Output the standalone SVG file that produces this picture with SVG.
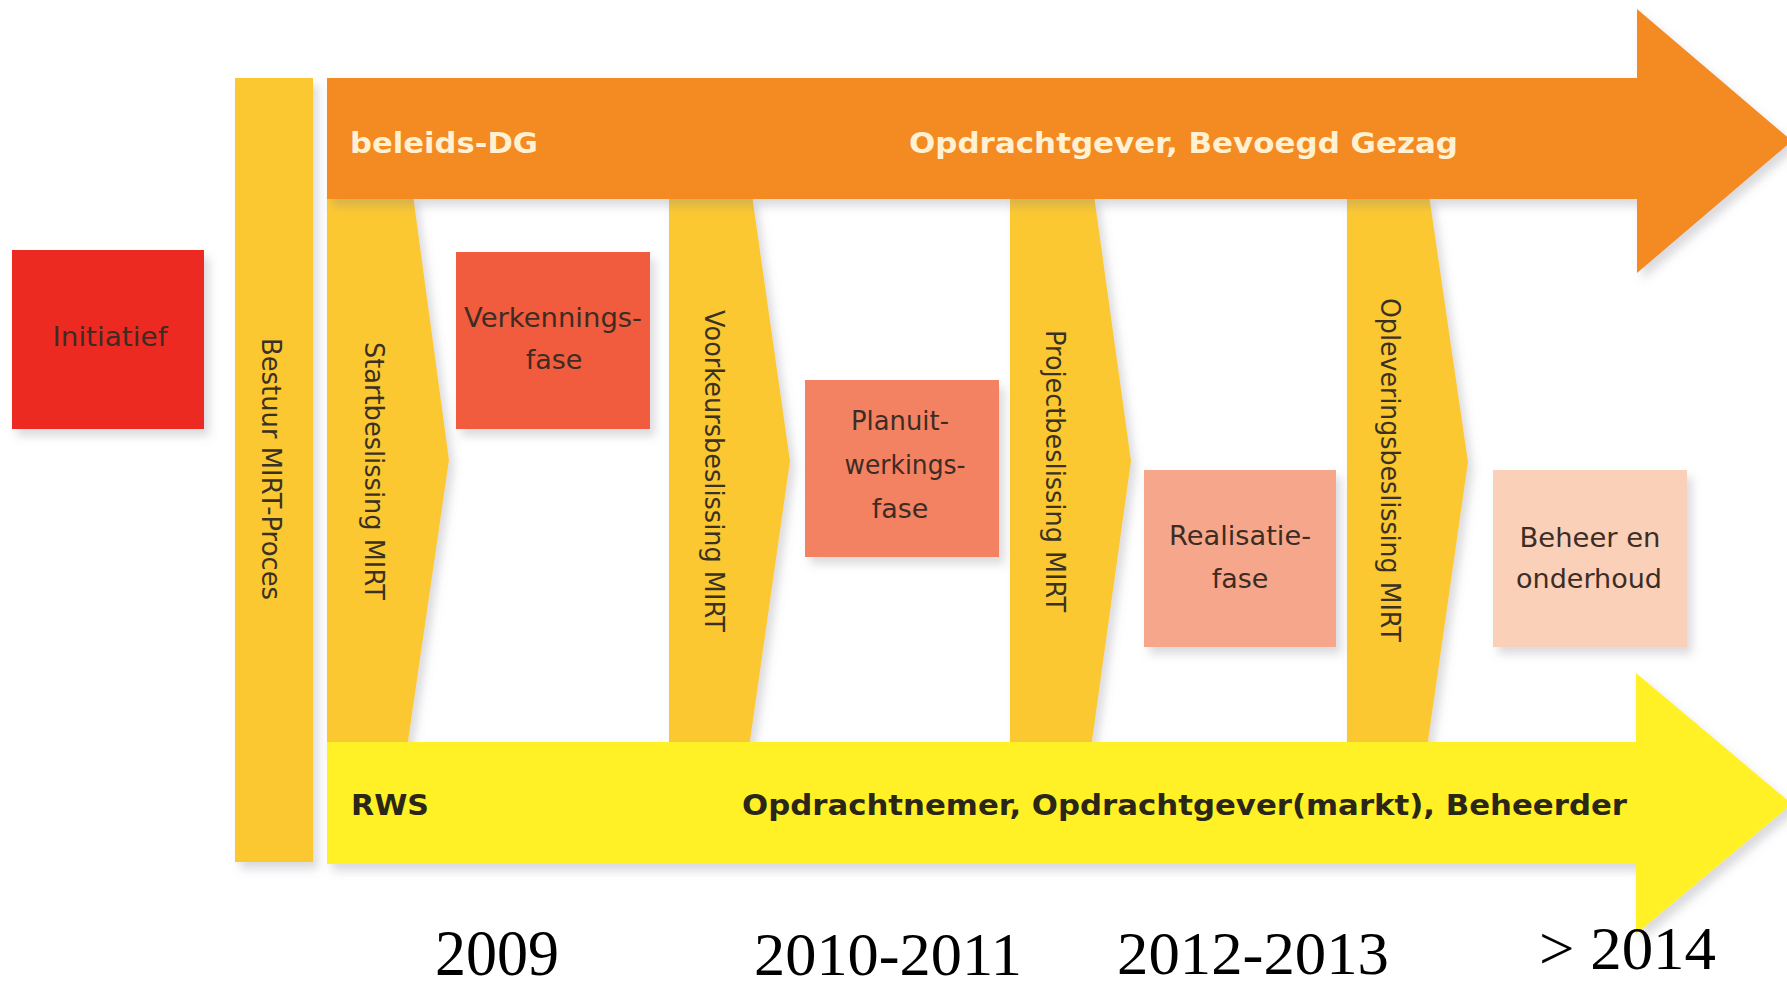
<svg xmlns="http://www.w3.org/2000/svg" width="1787" height="986" viewBox="0 0 1787 986">
<defs>
<filter id="sh" x="-10%" y="-10%" width="130%" height="130%">
<feDropShadow dx="5" dy="7" stdDeviation="5" flood-color="#7a7a8a" flood-opacity="0.28"/>
</filter>
<style>
.gold{fill:#FCC832;}
.vt{font-family:"DejaVu Sans","Verdana",sans-serif;font-size:26px;fill:#3a3122;text-anchor:middle;}
.bt{font-family:"DejaVu Sans","Verdana",sans-serif;font-size:27px;fill:#3d2c24;text-anchor:middle;}
.bold{font-family:"DejaVu Sans","Verdana",sans-serif;font-size:29px;font-weight:bold;}
.cream{fill:#FFF1D2;}
.dark{fill:#2b2718;}
.yr{font-family:"Liberation Serif","Times New Roman",serif;font-size:62px;fill:#000;}
</style>
</defs>
<rect width="1787" height="986" fill="#ffffff"/>

<g id="startbeslissing">
<path class="gold" filter="url(#sh)" d="M327,195 H413 L449,460 L407,748 H327 Z"/>
<text class="vt" transform="translate(365,471) rotate(90)" textLength="258" lengthAdjust="spacingAndGlyphs">Startbeslissing MIRT</text>
</g>
<g id="voorkeursbeslissing">
<path class="gold" filter="url(#sh)" d="M669,195 H752 L790,461 L749,748 H669 Z"/>
<text class="vt" transform="translate(705,471) rotate(90)" textLength="322" lengthAdjust="spacingAndGlyphs">Voorkeursbeslissing MIRT</text>
</g>
<g id="projectbeslissing">
<path class="gold" filter="url(#sh)" d="M1010,195 H1094 L1131,461 L1091,748 H1010 Z"/>
<text class="vt" transform="translate(1046,471) rotate(90)" textLength="282" lengthAdjust="spacingAndGlyphs">Projectbeslissing MIRT</text>
</g>
<g id="opleveringsbeslissing">
<path class="gold" filter="url(#sh)" d="M1347,195 H1429 L1468,462 L1427,748 H1347 Z"/>
<text class="vt" transform="translate(1381,470) rotate(90)" textLength="344" lengthAdjust="spacingAndGlyphs">Opleveringsbeslissing MIRT</text>
</g>

<g id="bestuur">
<rect class="gold" filter="url(#sh)" x="235" y="78" width="78" height="784"/>
<text class="vt" transform="translate(262,469) rotate(90)" textLength="262" lengthAdjust="spacingAndGlyphs">Bestuur MIRT-Proces</text>
</g>

<g id="beleids-dg">
<path fill="#F38A21" filter="url(#sh)" d="M327,78 H1637 V9 L1792,141 L1637,273 V199 H327 Z"/>
<text class="bold cream" x="350" y="153" textLength="188" lengthAdjust="spacingAndGlyphs">beleids-DG</text>
<text class="bold cream" x="909" y="153" textLength="549" lengthAdjust="spacingAndGlyphs">Opdrachtgever, Bevoegd Gezag</text>
</g>

<g id="rws">
<path fill="#FFF126" filter="url(#sh)" d="M327,742 H1636 V673 L1792,804 L1636,934 V864 H327 Z"/>
<text class="bold dark" x="351" y="815" textLength="78" lengthAdjust="spacingAndGlyphs">RWS</text>
<text class="bold dark" x="742" y="815" textLength="885" lengthAdjust="spacingAndGlyphs">Opdrachtnemer, Opdrachtgever(markt), Beheerder</text>
</g>

<g id="initiatief">
<rect fill="#EC2A23" filter="url(#sh)" x="12" y="250" width="192" height="179"/>
<text class="bt" x="110" y="346" textLength="115" lengthAdjust="spacingAndGlyphs">Initiatief</text>
</g>
<g id="verkenningsfase">
<rect fill="#F05B3D" filter="url(#sh)" x="456" y="252" width="194" height="177"/>
<text class="bt" x="553" y="327" textLength="178" lengthAdjust="spacingAndGlyphs">Verkennings-</text>
<text class="bt" x="554" y="369">fase</text>
</g>
<g id="planuitwerkingsfase">
<rect fill="#F38262" filter="url(#sh)" x="805" y="380" width="194" height="177"/>
<text class="bt" x="900" y="430" textLength="98" lengthAdjust="spacingAndGlyphs">Planuit-</text>
<text class="bt" x="905" y="474" textLength="121" lengthAdjust="spacingAndGlyphs">werkings-</text>
<text class="bt" x="900" y="518">fase</text>
</g>
<g id="realisatiefase">
<rect fill="#F6A78B" filter="url(#sh)" x="1144" y="470" width="192" height="177"/>
<text class="bt" x="1240" y="545" textLength="142" lengthAdjust="spacingAndGlyphs">Realisatie-</text>
<text class="bt" x="1240" y="588">fase</text>
</g>
<g id="beheer">
<rect fill="#FAD0B9" filter="url(#sh)" x="1493" y="470" width="194" height="177"/>
<text class="bt" x="1590" y="547" textLength="141" lengthAdjust="spacingAndGlyphs">Beheer en</text>
<text class="bt" x="1589" y="588" textLength="146" lengthAdjust="spacingAndGlyphs">onderhoud</text>
</g>

<g id="connectors"></g>

<g id="years">
<text class="yr" x="435" y="975" style="font-size:65px" textLength="124" lengthAdjust="spacingAndGlyphs">2009</text>
<text class="yr" x="754" y="975" textLength="268" lengthAdjust="spacingAndGlyphs">2010-2011</text>
<text class="yr" x="1117" y="974" textLength="272" lengthAdjust="spacingAndGlyphs">2012-2013</text>
<text class="yr" x="1539" y="969" textLength="177" lengthAdjust="spacingAndGlyphs">&gt; 2014</text>
</g>
</svg>
